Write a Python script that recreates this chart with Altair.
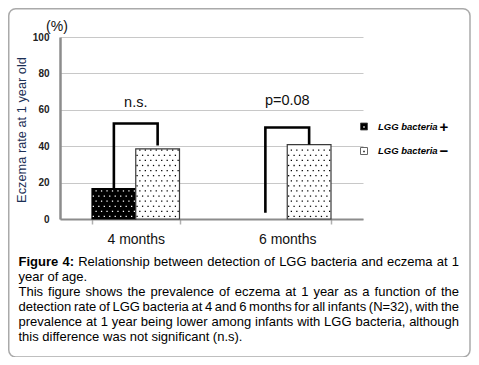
import altair as alt
import pandas as pd

FONT = "Liberation Sans"

# ---------------- data ----------------
periods = ["4 months", "6 months"]
groups = ["+", "-"]
rate_lgg_pos = [16.7, 0.0]
rate_lgg_neg = [38.5, 40.9]

bracket_top = [52.5, 50.3]
bracket_left_end = [16.7, 3.5]
bracket_right_end = [40.4, 40.9]
sig_text = ["n.s.", "p=0.08"]
sig_y = [61.6, 62.4]

y_ticks = [0, 20, 40, 60, 80, 100]
y_title = "Eczema rate at 1 year old"
unit_text = "(%)"
legend_label = "LGG bacteria"
legend_signs = ["+", "\u2212"]

caption_bold = "Figure 4:"
caption_lines = [
    "Relationship between detection of LGG bacteria and eczema at 1",
    "year of age.",
    "This figure shows the prevalence of eczema at 1 year as a function of the",
    "detection rate of LGG bacteria at 4 and 6 months for all infants (N=32), with the",
    "prevalence at 1 year being lower among infants with LGG bacteria, although",
    "this difference was not significant (n.s).",
]
caption_justify = [True, False, True, True, True, False]

# ---------------- caption layout (Arial / Liberation Sans metrics) ----------------
REG = dict(zip("abcdefghijklmnopqrstuvwxyz",
               [556, 556, 500, 556, 556, 278, 556, 556, 222, 222, 500, 222, 833,
                556, 556, 556, 556, 333, 500, 278, 556, 500, 722, 500, 500, 500]))
REG.update({"A": 667, "B": 667, "C": 722, "D": 722, "E": 667, "F": 611, "G": 778,
            "H": 722, "I": 278, "L": 556, "N": 722, "R": 722, "T": 611, " ": 278,
            "(": 333, ")": 333, ",": 278, ".": 278, ":": 278, "=": 584})
BOLD = dict(zip("abcdefghijklmnopqrstuvwxyz",
                [556, 611, 556, 611, 556, 333, 611, 611, 278, 278, 556, 278, 889,
                 611, 611, 611, 611, 389, 556, 333, 611, 556, 778, 556, 556, 500]))
BOLD.update({"F": 611, ":": 333, " ": 278})
for d in "0123456789":
    REG[d] = 556
    BOLD[d] = 556

CAP_SIZE = 13
CAP_LEFT = -41.5
CAP_RIGHT = 399.0
CAP_Y0 = 229.0
CAP_DY = 15.0


def wwidth(word, bold):
    table = BOLD if bold else REG
    return sum(table.get(c, 556) for c in word) * CAP_SIZE / 1000.0


rows = []
for li, line in enumerate(caption_lines):
    words = [(w, False) for w in line.split()]
    if li == 0:
        words = [(w, True) for w in caption_bold.split()] + words
    widths = [wwidth(w, b) for w, b in words]
    if caption_justify[li] and len(words) > 1:
        gap = (CAP_RIGHT - CAP_LEFT - sum(widths)) / (len(words) - 1)
    else:
        gap = REG[" "] * CAP_SIZE / 1000.0
    x = CAP_LEFT
    for (w, b), wd in zip(words, widths):
        rows.append({"word": w, "bold": b, "px": x, "py": CAP_Y0 + li * CAP_DY})
        x += wd + gap
cap_df = pd.DataFrame(rows)

# ---------------- tables ----------------
bars_df = pd.DataFrame({
    "period": periods * 2,
    "group": ["+"] * len(periods) + ["-"] * len(periods),
    "value": rate_lgg_pos + rate_lgg_neg,
})

br_rows = []
for i, p in enumerate(periods):
    br_rows += [
        {"period": p, "group": "+", "v": bracket_left_end[i], "ord": 0},
        {"period": p, "group": "+", "v": bracket_top[i], "ord": 1},
        {"period": p, "group": "-", "v": bracket_top[i], "ord": 2},
        {"period": p, "group": "-", "v": bracket_right_end[i], "ord": 3},
    ]
br_df = pd.DataFrame(br_rows)
sig_df = pd.DataFrame({"period": periods, "label": sig_text, "y": sig_y})
one = pd.DataFrame({"k": [0]})

NCOL = 16
sub_domain = [f"{g}_{i:02d}" for g in groups for i in range(NCOL)]

# ---------------- scales / axes ----------------
xs = alt.Scale(domain=periods, paddingInner=0.4224, paddingOuter=0.2112)
ys = alt.Scale(domain=[0, 100], nice=False)

x_axis = alt.Axis(title=None, labelAngle=0, labelFontSize=14, labelColor="#111",
                  labelPadding=8, tickBand="extent", tickSize=5, tickColor="#b0b0b0",
                  tickWidth=1.5, domainColor="#8c8c8c", domainWidth=2, grid=False)
y_axis = alt.Axis(values=y_ticks, title=None, labelFontSize=10, labelFontWeight="bold",
                  labelColor="#222", labelPadding=11, ticks=False,
                  domainColor="#8c8c8c", domainWidth=2.5, gridColor="#c8c8c8",
                  gridWidth=1)


def X():
    return alt.X("period:N", scale=xs, sort=periods, axis=x_axis)


def Y(field):
    return alt.Y(field, scale=ys, axis=y_axis)


# ---------------- layers ----------------
border = alt.Chart(one).mark_rect(fillOpacity=0, stroke="#aaaaaa", strokeWidth=1.5,
                                  cornerRadius=7).encode(
    x=alt.value(-51.25), x2=alt.value(410), y=alt.value(-28.25), y2=alt.value(320))

bars = alt.Chart(bars_df).transform_filter("datum.value > 0").mark_bar(
    strokeWidth=1.2).encode(
    x=X(),
    xOffset=alt.XOffset("group:N", scale=alt.Scale(domain=groups)),
    y=Y("value:Q"),
    fill=alt.condition("datum.group == '+'", alt.value("#000000"), alt.value("#ffffff")),
    stroke=alt.condition("datum.group == '+'", alt.value("#000000"), alt.value("#3a3a3a")),
)

dots = alt.Chart(bars_df).transform_filter("datum.value > 0").transform_calculate(
    ri="sequence(0, floor((datum.value - 2) / 2.8) + 1)"
).transform_flatten(["ri"]).transform_calculate(
    dy="1.4 + 2.8 * datum.ri",
    ci=f"sequence(0, {NCOL})",
).transform_flatten(["ci"]).transform_filter(
    "(datum.ci + datum.ri) % 2 == 0"
).transform_calculate(
    sub="datum.group + '_' + (datum.ci < 10 ? '0' : '') + datum.ci"
).mark_square(size=1.6, opacity=1, strokeWidth=0).encode(
    x=X(),
    xOffset=alt.XOffset("sub:N", scale=alt.Scale(domain=sub_domain)),
    y=Y("dy:Q"),
    fill=alt.condition("datum.group == '+'", alt.value("#ffffff"), alt.value("#000000")),
)

bracket = alt.Chart(br_df).mark_line(color="#000000", strokeWidth=2.6,
                                     strokeJoin="miter").encode(
    x=X(),
    xOffset=alt.XOffset("group:N", scale=alt.Scale(domain=groups)),
    y=Y("v:Q"),
    order="ord:Q",
    detail="period:N",
)

sig = alt.Chart(sig_df).mark_text(fontSize=14.5, color="#111", baseline="alphabetic",
                                  align="center").encode(
    x=X(),
    y=Y("y:Q"),
    text="label:N",
)

cap_reg = alt.Chart(cap_df).transform_filter("!datum.bold").mark_text(
    fontSize=CAP_SIZE, color="#000", align="left", baseline="alphabetic").encode(
    x=alt.X("px:Q", scale=None), y=alt.Y("py:Q", scale=None), text="word:N")
cap_bold = alt.Chart(cap_df).transform_filter("datum.bold").mark_text(
    fontSize=CAP_SIZE, color="#000", align="left", baseline="alphabetic",
    fontWeight="bold").encode(
    x=alt.X("px:Q", scale=None), y=alt.Y("py:Q", scale=None), text="word:N")

ytitle = alt.Chart(one).mark_text(fontSize=12.8, color="#1c2f55", align="center",
                                  baseline="middle", angle=270).encode(
    x=alt.value(-38), y=alt.value(93), text=alt.value(y_title))

unit = alt.Chart(one).mark_text(fontSize=14, color="#111", align="center",
                                baseline="alphabetic").encode(
    x=alt.value(-3), y=alt.value(-6), text=alt.value(unit_text))

leg_sq1 = alt.Chart(one).mark_square(size=49, fill="#000", stroke="#444",
                                     strokeWidth=0.8, opacity=1).encode(
    x=alt.value(304), y=alt.value(89.5))
leg_dot1 = alt.Chart(one).mark_square(size=2, fill="#fff", strokeWidth=0,
                                      opacity=1).encode(
    x=alt.value(304), y=alt.value(90))
leg_sq2 = alt.Chart(one).mark_square(size=49, fill="#fff", stroke="#666",
                                     strokeWidth=1, opacity=1).encode(
    x=alt.value(304), y=alt.value(114))
leg_dot2 = alt.Chart(one).mark_square(size=2, fill="#000", strokeWidth=0,
                                      opacity=1).encode(
    x=alt.value(304), y=alt.value(114.5))
leg_t1 = alt.Chart(one).mark_text(fontSize=9.5, fontStyle="italic", fontWeight="bold",
                                  color="#000", align="left", baseline="middle").encode(
    x=alt.value(318), y=alt.value(90), text=alt.value(legend_label))
leg_t2 = alt.Chart(one).mark_text(fontSize=9.5, fontStyle="italic", fontWeight="bold",
                                  color="#000", align="left", baseline="middle").encode(
    x=alt.value(318), y=alt.value(114), text=alt.value(legend_label))
leg_s1 = alt.Chart(one).mark_text(fontSize=15, fontWeight="bold", color="#000",
                                  align="left", baseline="middle").encode(
    x=alt.value(379.5), y=alt.value(89.5), text=alt.value(legend_signs[0]))
leg_s2 = alt.Chart(one).mark_text(fontSize=15, fontWeight="bold", color="#000",
                                  align="left", baseline="middle").encode(
    x=alt.value(379.5), y=alt.value(113.5), text=alt.value(legend_signs[1]))

chart = alt.layer(
    border, bars, dots, bracket, sig, cap_reg, cap_bold, ytitle, unit,
    leg_sq1, leg_dot1, leg_sq2, leg_dot2, leg_t1, leg_t2, leg_s1, leg_s2,
).resolve_scale(xOffset="independent").properties(
    width=303, height=182,
    padding={"left": 52, "top": 29, "right": 108, "bottom": 138},
    autosize=alt.AutoSizeParams(type="none"),
).configure(font=FONT).configure_view(stroke=None)

chart.save("out.html", embed_options={"renderer": "svg", "actions": False})
